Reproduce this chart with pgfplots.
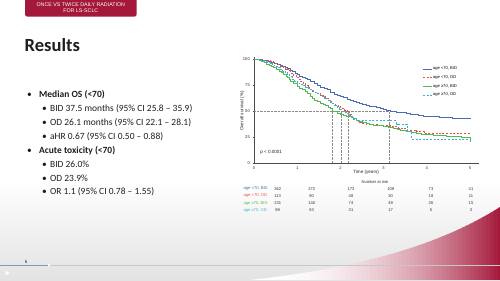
\documentclass[border=0pt]{standalone}
\usepackage{pgfplots}
\pgfplotsset{compat=1.18}
\usepackage{fontspec}
\setmainfont{Carlito}
\newfontfamily\arial{Liberation Sans}

\definecolor{maroon}{RGB}{164,24,58}
\definecolor{kmblue}{RGB}{74,108,176}
\definecolor{kmred}{RGB}{232,80,74}
\definecolor{kmgreen}{RGB}{86,184,82}
\definecolor{kmcyan}{RGB}{66,178,200}
\definecolor{slidetext}{RGB}{30,30,30}

\newcommand{\chartfont}{\arial\fontsize{4.1}{5}\selectfont}
\newcommand{\bodyfont}{\fontsize{9.5}{11}\selectfont}

\begin{document}
\begin{tikzpicture}
% ---------- slide background (units: 1bp, y downwards) ----------
\begin{scope}[x=1bp,y=-1bp]
  \useasboundingbox (0,0) rectangle (500,280);
  \clip (0,0) rectangle (500,280);
  \fill[white] (0,0) rectangle (500,280);
  \shade[top color=white, bottom color=black!11] (0,180) rectangle (500,280);
  % maroon swoosh, fading in from the left
  \begin{scope}
    \clip (250,280) .. controls (360,268) and (440,245) .. (500,207) -- (500,280) -- cycle;
    \foreach \i in {0,...,62}{
      \pgfmathsetmacro{\p}{100*((\i*4+2)/250)^2.2}
      \fill[maroon!\p!white] (250+4*\i,200) rectangle (254.6+4*\i,280);
    }
  \end{scope}

  % header tab
  \fill[maroon, rounded corners=2.5bp] (25,-5) rectangle (136.7,16.7);
  \node[text=white, font=\arial\fontsize{5.3}{6}\selectfont, align=center] at (80.8,7.4)
    {ONCE VS TWICE DAILY RADIATION\\[-0.3bp]FOR LS-SCLC};

  % title
  \node[anchor=base west, inner sep=0, text=slidetext, font=\bfseries\fontsize{18.6}{20}\selectfont] at (24.5,51) {Results};

  % bullets
  \begin{scope}[every node/.style={anchor=base west, inner sep=0, text=slidetext, font=\bodyfont}]
    \node at (27,97.7) {•}; \node at (39,97.7) {\bfseries Median OS (<70)};
    \node at (42,111.6) {•}; \node at (50,111.6) {BID 37.5 months (95\% CI 25.8 – 35.9)};
    \node at (42,125.5) {•}; \node at (50,125.5) {OD 26.1 months (95\% CI 22.1 – 28.1)};
    \node at (42,139.3) {•}; \node at (50,139.3) {aHR 0.67 (95\% CI 0.50 – 0.88)};
    \node at (27,153.2) {•}; \node at (39,153.2) {\bfseries Acute toxicity (<70)};
    \node at (42,167.1) {•}; \node at (50,167.1) {BID 26.0\%};
    \node at (42,181.0) {•}; \node at (50,181.0) {OD 23.9\%};
    \node at (42,194.9) {•}; \node at (50,194.9) {OR 1.1 (95\% CI 0.78 – 1.55)};
  \end{scope}

  % number at risk table
  \node[font=\chartfont, text=black!80] at (375,182) {Number at risk};
  \begin{scope}[every node/.style={font=\chartfont, inner sep=0}]
    \node[anchor=west, text=kmblue]  at (243.5,188.6) {age <70, BID};
    \node[anchor=west, text=kmred]   at (243.5,195.9) {age <70, OD};
    \node[anchor=west, text=kmgreen] at (243.5,203.2) {age ≥70, BID};
    \node[anchor=west, text=kmcyan]  at (243.5,210.5) {age ≥70, OD};
    \foreach \x/\a/\b/\c/\d in {277.7/362/113/231/89, 311.7/272/80/140/63, 351/173/48/74/31,
                               390.7/109/30/49/17, 431/73/18/26/5, 471/41/11/15/3}{
      \node[text=black!80] at (\x,188.6) {\a};
      \node[text=black!80] at (\x,195.9) {\b};
      \node[text=black!80] at (\x,203.2) {\c};
      \node[text=black!80] at (\x,210.5) {\d};
    }
  \end{scope}

  % player bar and slide number
  \draw[black!22, line width=0.7bp] (0,265) -- (500,265);
  \draw[kmblue!70!white, line width=0.7bp] (0,265) -- (49,265);
  \fill[white] (49,265) circle (1.4);
  \node[font=\arial\fontsize{4.5}{5}\selectfont, text=black!85] at (26,262) {5};
  \fill[white] (5.5,270.5) -- (9.5,273) -- (5.5,275.5) -- cycle;
\end{scope}

% ---------- survival curves ----------
\begin{axis}[
  at={(254bp,-162.7bp)}, anchor=south west,
  scale only axis, width=224.6bp, height=105.5bp,
  xmin=0, xmax=5.2, ymin=0, ymax=102,
  axis lines=left,
  axis line style={-, draw=black!70, line width=0.4bp},
  xtick={0,1,2,3,4,5}, ytick={0,25,50,75,100},
  tick align=outside, major tick length=1.3bp,
  tick style={draw=black!70, line width=0.4bp},
  ticklabel style={font=\chartfont, text=black!80},
  /pgf/number format/assume math mode=true,
  xticklabel style={yshift=0.6bp},
  yticklabel style={xshift=0.6bp},
  xlabel={Time (years)}, ylabel={Overall survival (\%)},
  label style={font=\arial\fontsize{4.6}{5.5}\selectfont, text=black!85},
  xlabel style={at={(axis description cs:0.499,-0.095)}, anchor=center},
  ylabel style={at={(axis description cs:-0.053,0.49)}, anchor=center},
  legend style={at={(0.75,0.915)}, anchor=north west, draw=none, fill=none,
    font=\chartfont, row sep=3.1bp, inner sep=0pt, nodes={inner sep=0.6bp}},
  legend cell align=left,
  legend image code/.code={\draw[#1] (0bp,0bp) -- (9bp,0bp);},
  medline/.style={black!45, line width=0.4bp, dash pattern=on 0.5bp off 0.9bp, forget plot},
]
% median survival guides
\addplot[medline] coordinates {(0,50) (3.13,50)};
\addplot[medline] coordinates {(1.82,0) (1.82,50)};
\addplot[medline] coordinates {(2.03,0) (2.03,50)};
\addplot[medline] coordinates {(2.17,0) (2.17,50)};
\addplot[medline] coordinates {(3.13,0) (3.13,50)};

% age <70, BID
\addplot[const plot, kmblue, line width=0.8bp] coordinates {
 (0,100) (0.10,99.7) (0.20,99.2) (0.31,98.4) (0.40,97.3) (0.48,96.2) (0.54,95.1)
 (0.60,94.0) (0.66,93.0) (0.72,91.9) (0.77,90.8) (0.84,89.4) (0.90,88.0) (0.95,86.7)
 (1.00,85.2) (1.06,83.8) (1.12,82.5) (1.18,81.3) (1.23,80.3) (1.31,78.2) (1.39,76.3)
 (1.46,74.6) (1.54,73.0) (1.62,71.8) (1.70,70.4) (1.77,68.3) (1.85,66.4) (1.93,65.1)
 (2.01,64.0) (2.08,62.8) (2.16,61.5) (2.23,60.1) (2.31,58.9) (2.38,58.1) (2.45,57.4)
 (2.52,56.4) (2.60,55.5) (2.67,54.7) (2.75,54.0) (2.83,53.3) (2.92,52.6) (3.00,51.9)
 (3.07,51.0) (3.15,50.0) (3.22,49.3) (3.30,48.8) (3.42,48.3) (3.53,47.8) (3.62,47.1)
 (3.70,46.5) (3.81,45.8) (3.92,45.2) (4.10,44.5) (4.30,43.9) (4.60,43.3) (5.00,42.9)};
\addlegendentry{age <70, BID}

% age <70, OD
\addplot[const plot, kmred, line width=0.8bp, dash pattern=on 2bp off 1.6bp] coordinates {
 (0,100) (0.20,99.2) (0.30,98.6) (0.39,97.7) (0.45,96.8) (0.50,95.8) (0.56,94.7)
 (0.62,93.4) (0.68,92.0) (0.73,90.5) (0.79,88.8) (0.85,86.8) (0.91,84.6) (0.97,82.5)
 (1.03,80.5) (1.08,78.6) (1.14,76.6) (1.20,74.5) (1.26,72.4) (1.31,70.4) (1.36,69.2)
 (1.42,68.0) (1.48,66.8) (1.54,65.5) (1.60,63.8) (1.66,62.0) (1.72,60.4) (1.77,58.9)
 (1.83,57.2) (1.89,55.5) (1.95,54.0) (2.01,52.6) (2.09,51.0) (2.17,49.5) (2.22,46.5)
 (2.27,44.4) (2.31,42.4) (2.38,40.4) (2.45,38.5) (2.52,37.6) (2.60,36.8) (2.90,36.0)
 (3.15,34.8) (3.35,33.0) (3.53,31.6) (3.77,30.0) (3.95,28.4) (4.30,28.0) (5.00,27.5)};
\addlegendentry{age <70, OD}

% age >=70, BID
\addplot[const plot, kmgreen, line width=0.8bp] coordinates {
 (0,100) (0.12,98.5) (0.18,97.6) (0.23,96.7) (0.29,95.4) (0.35,94.0) (0.40,93.0)
 (0.46,91.8) (0.52,90.2) (0.58,88.5) (0.64,86.9) (0.69,85.2) (0.74,83.6) (0.78,82.0)
 (0.82,80.3) (0.85,78.6) (0.92,76.2) (1.00,73.7) (1.06,72.1) (1.12,70.5) (1.18,68.8)
 (1.23,67.1) (1.30,64.0) (1.35,62.2) (1.39,60.5) (1.46,58.8) (1.54,57.2) (1.60,56.1)
 (1.66,55.0) (1.72,53.6) (1.77,52.3) (1.82,49.5) (1.93,48.0) (2.00,46.8) (2.08,45.7)
 (2.15,45.1) (2.22,44.5) (2.27,43.4) (2.31,42.4) (2.38,41.0) (2.45,39.7) (2.52,38.8)
 (2.60,38.0) (2.68,37.2) (2.76,36.5) (2.88,35.6) (2.99,34.8) (3.10,34.0) (3.22,33.2)
 (3.31,32.3) (3.40,31.5) (3.53,30.0) (3.65,29.2) (3.77,28.4) (3.88,27.8) (4.00,27.2)
 (4.15,26.6) (4.30,26.1) (4.45,25.6) (4.60,25.2) (4.80,24.8) (4.96,24.5) (5.00,20.3)};
\addlegendentry{age ≥70, BID}

% age >=70, OD
\addplot[const plot, kmcyan, line width=0.8bp, dash pattern=on 2bp off 1.6bp] coordinates {
 (0,100) (0.15,98.5) (0.23,97.6) (0.31,96.7) (0.37,95.6) (0.42,94.5) (0.48,93.2)
 (0.54,91.8) (0.60,90.2) (0.66,88.5) (0.72,86.9) (0.77,85.2) (0.83,83.1) (0.88,81.0)
 (0.94,79.0) (1.00,77.0) (1.06,75.8) (1.12,74.5) (1.18,73.2) (1.23,72.0) (1.29,70.8)
 (1.35,69.5) (1.41,68.3) (1.47,67.1) (1.53,65.6) (1.58,64.0) (1.64,62.2) (1.70,60.5)
 (1.76,58.7) (1.81,57.0) (1.87,55.4) (1.93,53.9) (1.98,52.0) (2.03,50.0) (2.09,48.8)
 (2.14,47.5) (2.19,45.8) (2.24,44.1) (2.31,42.3) (2.37,40.5) (3.30,37.5) (3.55,30.0)
 (3.65,23.0) (5.00,23.0)};
\addlegendentry{age ≥70, OD}

\node[anchor=west, font=\arial\fontsize{4.6}{5.5}\selectfont, text=black!85, inner sep=0] at (axis cs:0.14,9.7) {p < 0.0001};
\end{axis}
\end{tikzpicture}
\end{document}
